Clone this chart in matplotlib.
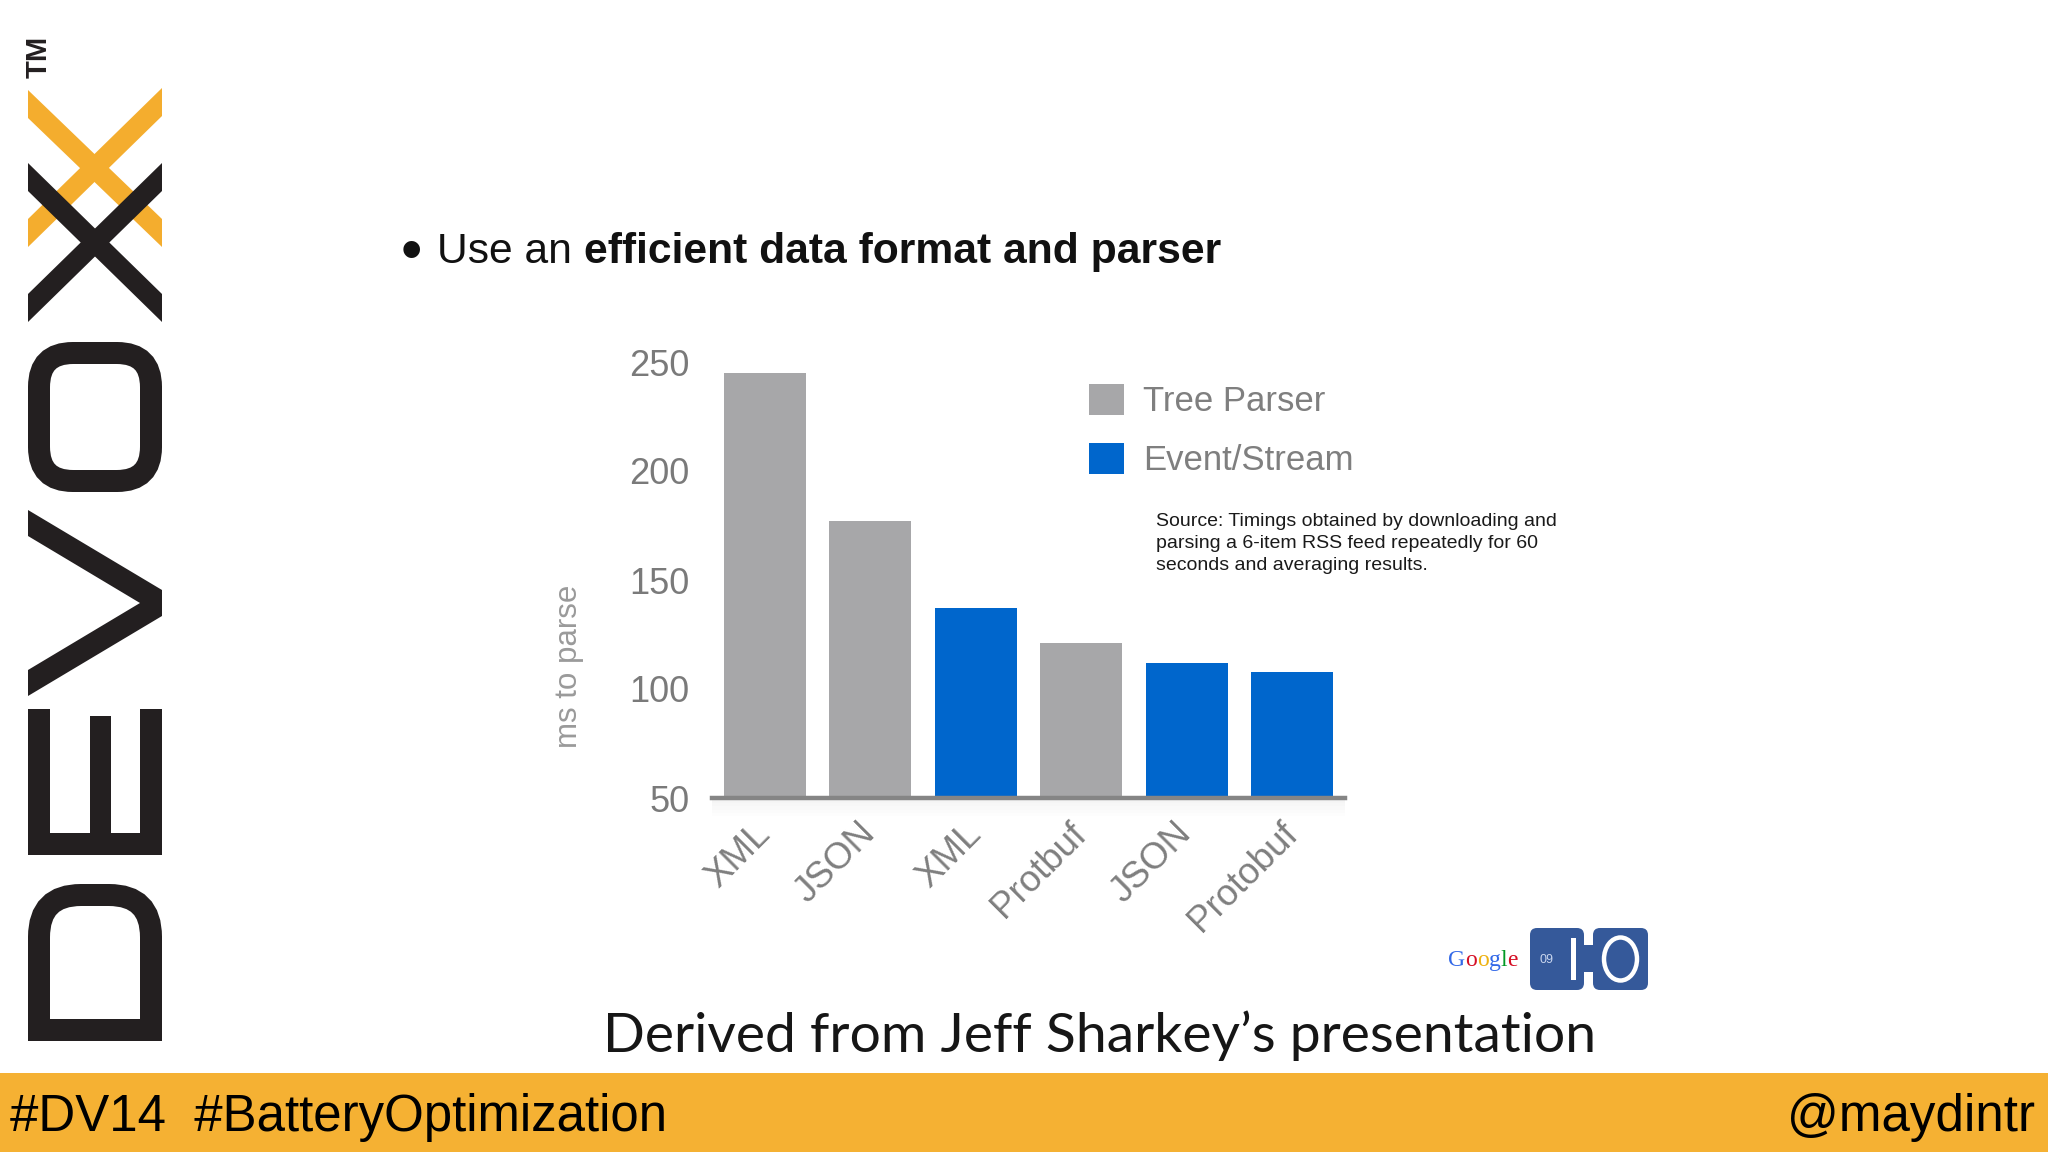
import matplotlib
matplotlib.use("Agg")
import matplotlib.pyplot as plt
from matplotlib.patches import Rectangle, Polygon, FancyBboxPatch, Ellipse, PathPatch, Patch
from matplotlib.path import Path
from matplotlib.transforms import ScaledTranslation
import numpy as np

# ---------------- data ----------------
categories = ["XML", "JSON", "XML", "Protbuf", "JSON", "Protobuf"]
parser_type = ["Tree Parser", "Tree Parser", "Event/Stream", "Tree Parser", "Event/Stream", "Event/Stream"]
ms_to_parse = [245, 177, 137, 121, 112, 108]
y_ticks = [50, 100, 150, 200, 250]
series_names = ["Tree Parser", "Event/Stream"]
series_colors = {"Tree Parser": "#A7A7A9", "Event/Stream": "#0066CC"}

title_regular = "Use an"
title_bold = "efficient data format and parser"
source_note = ("Source: Timings obtained by downloading and\n"
               "parsing a 6-item RSS feed repeatedly for 60\n"
               "seconds and averaging results.")
credit = "Derived from Jeff Sharkey\u2019s presentation"
hashtags = "#DV14  #BatteryOptimization"
handle = "@maydintr"

# ---------------- figure ----------------
W, H = 2048, 1152
plt.rcParams['font.family'] = ['Liberation Sans', 'DejaVu Sans']
fig = plt.figure(figsize=(20.48, 11.52), dpi=100)
fig.patch.set_facecolor("white")
renderer = fig.canvas.get_renderer()


def fx(px):
    return px / W


def fy(py):
    return 1 - py / H


def wpx(t):
    return t.get_window_extent(renderer=renderer).width


def fit_width(t, target):
    t.set_fontsize(t.get_fontsize() * target / wpx(t))


# overlay axes in pixel coordinates (decorations)
ov = fig.add_axes([0, 0, 1, 1], zorder=0)
ov.set_xlim(0, W)
ov.set_ylim(H, 0)
ov.axis('off')

# ---------------- chart ----------------
ax = fig.add_axes([fx(712), fy(798), fx(1345) - fx(712), fy(362) - fy(798)], zorder=2)
ax.patch.set_alpha(0)
x = np.arange(len(categories))
colors = [series_colors[p] for p in parser_type]
ax.bar(x, ms_to_parse, width=0.78, color=colors, zorder=2)
ax.set_xlim(-0.5, len(categories) - 0.5)
ax.set_ylim(50, 250)
ax.set_yticks(y_ticks)
ax.set_yticklabels([str(t) for t in y_ticks])
ax.set_xticks(x)
ax.set_xticklabels(categories, rotation=45, ha='right', va='top')
for s in ['top', 'right', 'left']:
    ax.spines[s].set_visible(False)
ax.spines['bottom'].set_color('#858585')
ax.spines['bottom'].set_linewidth(3.2)
ax.spines['bottom'].set_zorder(3)
ax.tick_params(axis='y', length=0, pad=16, labelsize=26, labelcolor='#7A7A7A')
ax.tick_params(axis='x', length=0, pad=13, labelsize=26.5, labelcolor='#7F7F7F')
off = ScaledTranslation(12 / 100, 0, fig.dpi_scale_trans)
for lab in ax.get_xticklabels():
    lab.set_transform(lab.get_transform() + off)
ax.set_ylabel("ms to parse", fontsize=22.5, color='#9A9A9A')
ax.yaxis.set_label_coords(-0.203, 0.303)

# soft shadow below the axis line
for i in range(10):
    ov.add_patch(Rectangle((712, 800 + i * 1.6), 633, 1.6, color='#9A9A9A',
                           alpha=0.10 * (1 - i / 10), lw=0, zorder=1))

# legend
handles = [Patch(facecolor=series_colors[n], edgecolor='none', label=n) for n in series_names]
fig.legend(handles=handles, loc='upper left', bbox_to_anchor=(fx(1089), fy(384)),
           frameon=False, fontsize=25, handlelength=1.0, handleheight=1.0,
           handletextpad=0.55, labelspacing=0.7, borderpad=0, borderaxespad=0,
           labelcolor='#7F7F7F')

# source note
fig.text(fx(1156), fy(513), source_note, fontsize=14, va='top', ha='left',
         linespacing=1.40, color='#1A1A1A')

# ---------------- title ----------------
fig.text(fx(411), fy(255), "\u2022", fontsize=44, ha='center', va='center', color='#111111')
t1 = fig.text(fx(437), fy(263), title_regular, fontsize=30.7, va='baseline', ha='left', color='#111111')
tmp_a = fig.text(0, 0, "n n", fontsize=30.7)
tmp_b = fig.text(0, 0, "nn", fontsize=30.7)
space = wpx(tmp_a) - wpx(tmp_b)
tmp_a.remove()
tmp_b.remove()
fig.text(fx(437 + wpx(t1) + space), fy(263), title_bold, fontsize=30.7, fontweight='bold',
         va='baseline', ha='left', color='#111111')

# ---------------- credit ----------------
d = fig.text(fx(1100), fy(1036), credit, fontsize=36, family=['Lato', 'DejaVu Sans'],
             fontweight='normal', ha='center', va='center', color='#161616')
fit_width(d, 994)

# ---------------- bottom bar ----------------
ov.add_patch(Rectangle((0, 1073), W, H - 1073, color='#F5B133', lw=0, zorder=1))
th = ov.text(10, 1118, hashtags, fontsize=37, ha='left', va='center', color='black', zorder=2)
fit_width(th, 657)
tm = ov.text(2035, 1118, handle, fontsize=37, ha='right', va='center', color='black', zorder=2)
fit_width(tm, 248)

# ---------------- DEVOXX logo ----------------
black = '#231F20'
orange = '#F4AD2E'
lw = 22 * 0.72
# D
verts = [(39, 1030), (151, 1030), (151, 937), (151, 895), (109, 895), (81, 895), (39, 895), (39, 937), (39, 1030)]
codes = [Path.MOVETO, Path.LINETO, Path.LINETO, Path.CURVE3, Path.CURVE3, Path.LINETO,
         Path.CURVE3, Path.CURVE3, Path.CLOSEPOLY]
ov.add_patch(PathPatch(Path(verts, codes), fill=False, edgecolor=black, lw=lw, joinstyle='miter'))
# E
ov.add_patch(Rectangle((28, 709), 22, 146, color=black, lw=0))
ov.add_patch(Rectangle((90, 716), 21, 139, color=black, lw=0))
ov.add_patch(Rectangle((140, 709), 22, 146, color=black, lw=0))
ov.add_patch(Rectangle((28, 833), 134, 22, color=black, lw=0))
# V
ov.add_patch(Polygon([(28, 510), (162, 590), (162, 616), (28, 696), (28, 670), (140, 603), (28, 536)],
                     closed=True, color=black, lw=0))
# O
ov.add_patch(FancyBboxPatch((39, 353), 112, 128, boxstyle="round,pad=0,rounding_size=34",
                            fill=False, edgecolor=black, lw=lw))
# orange X (behind)
ov.add_patch(Polygon([(28, 90), (28, 118), (162, 247), (162, 219)], closed=True, color=orange, lw=0))
ov.add_patch(Polygon([(162, 88), (162, 116), (28, 247), (28, 219)], closed=True, color=orange, lw=0))
# black X (front)
ov.add_patch(Polygon([(28, 163), (28, 191), (162, 322), (162, 294)], closed=True, color=black, lw=0))
ov.add_patch(Polygon([(162, 163), (162, 191), (28, 322), (28, 294)], closed=True, color=black, lw=0))
ov.text(39, 57, "TM", rotation=90, fontsize=21, fontweight='bold', color=black, ha='center', va='center')

# ---------------- Google I/O logo ----------------
g_letters = "Google"
g_colors = ['#3369E8', '#D50F25', '#EEB211', '#3369E8', '#009925', '#D50F25']
gx0 = 1448
for i, (ch, c) in enumerate(zip(g_letters, g_colors)):
    if i == 0:
        xo = 0
    else:
        tp = ov.text(0, 0, g_letters[:i] + "l", fontsize=17, family=['Liberation Serif'])
        tl = ov.text(0, 0, "l", fontsize=17, family=['Liberation Serif'])
        tl2 = ov.text(0, 0, "ll", fontsize=17, family=['Liberation Serif'])
        xo = wpx(tp) - wpx(tl) - ((wpx(tl2) - 2 * wpx(tl)))
        tp.remove(); tl.remove(); tl2.remove()
    ov.text(gx0 + xo, 966, ch, fontsize=17, family=['Liberation Serif'], color=c,
            ha='left', va='baseline')
io_blue = '#35599A'
ov.add_patch(FancyBboxPatch((1530, 928), 54, 62, boxstyle="round,pad=0,rounding_size=7",
                            color=io_blue, lw=0))
ov.add_patch(FancyBboxPatch((1593, 928), 55, 62, boxstyle="round,pad=0,rounding_size=7",
                            color=io_blue, lw=0))
ov.add_patch(Rectangle((1582, 945), 13, 27, color=io_blue, lw=0))
ov.add_patch(Rectangle((1571, 938), 5, 42, color='white', lw=0))
ov.add_patch(Ellipse((1620.5, 959), 33, 43, fill=False, edgecolor='white', lw=3.2))
ov.text(1546, 960, "09", fontsize=9, color='#C9D6EE', ha='center', va='center')

fig.savefig("out.png", dpi=100, facecolor='white')
